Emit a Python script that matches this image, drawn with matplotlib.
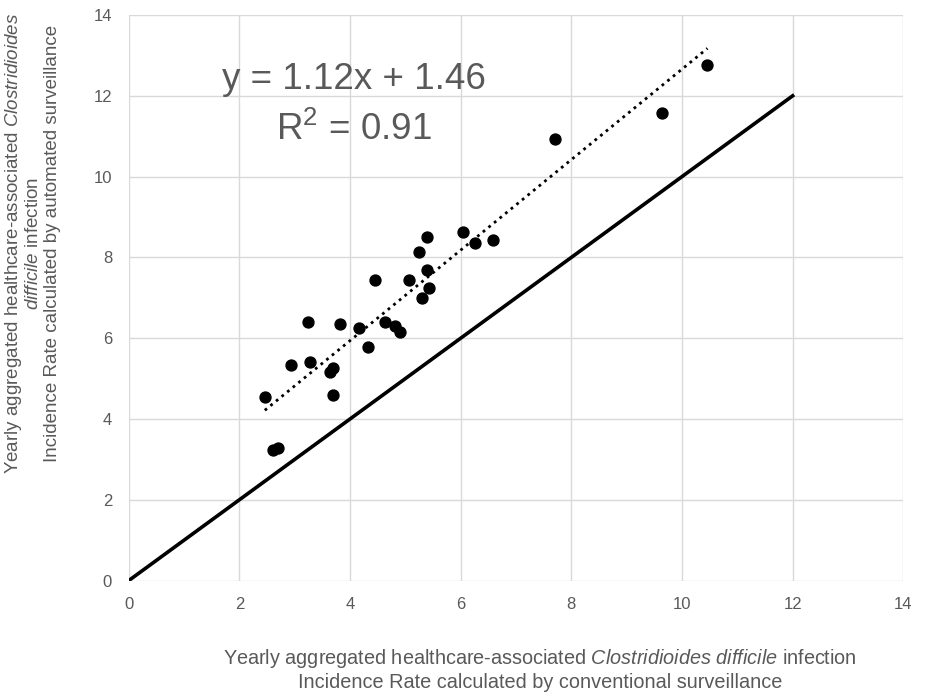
import numpy as np
import matplotlib
matplotlib.use("Agg")
import matplotlib.pyplot as plt

# Yearly aggregated HA-CDI incidence rates (conventional vs automated surveillance)
conventional = [2.46, 2.61, 2.69, 2.93, 3.24, 3.27, 3.64, 3.70, 3.69, 3.82,
                4.17, 4.33, 4.46, 4.64, 4.81, 4.90, 5.06, 5.25, 5.30, 5.40,
                5.43, 5.40, 6.04, 6.25, 6.58, 7.70, 9.63, 10.46]
automated = [4.54, 3.23, 3.29, 5.34, 6.40, 5.42, 5.16, 5.25, 4.59, 6.35,
             6.25, 5.77, 7.44, 6.41, 6.31, 6.15, 7.43, 8.13, 7.00, 7.69,
             7.24, 8.50, 8.62, 8.36, 8.42, 10.93, 11.58, 12.77]

# trendline reported on the chart
slope, intercept, r2 = 1.12, 1.46, 0.91
identity_range = [0, 12]

plt.rcParams['font.family'] = ["Liberation Sans", "DejaVu Sans"]
plt.rcParams['mathtext.fontset'] = 'custom'
plt.rcParams['mathtext.rm'] = 'Liberation Sans'
plt.rcParams['mathtext.it'] = 'Liberation Sans:italic'

grey = '#595959'

fig = plt.figure(figsize=(9.28, 6.92), dpi=100)
ax = fig.add_axes([0.1387, 0.161, 0.8347, 0.8173])

# line of identity
ax.plot(identity_range, identity_range, color='black', linewidth=2.6, zorder=3)

# linear trendline across the data range
xs = np.array([min(conventional), max(conventional)])
ax.plot(xs, slope * xs + intercept, color='black', linestyle=(0, (1, 1.6)),
        linewidth=2.0, zorder=3)

ax.scatter(conventional, automated, s=62, color='black', zorder=4)

ax.set_xlim(0, 14)
ax.set_ylim(0, 14)
ax.set_xticks(range(0, 15, 2))
ax.set_yticks(range(0, 15, 2))
ax.grid(True, color='#D9D9D9', linewidth=1.0)
ax.set_axisbelow(True)
for s in ax.spines.values():
    s.set_visible(False)
ax.tick_params(length=0, labelsize=12, labelcolor=grey, pad=12)

ax.text(4.07, 12.4, f"y = {slope}x + {intercept}", fontsize=26.5, color=grey,
        ha='center', va='center')
ax.text(4.07, 11.15, f"R$^{{2}}$ = {r2}", fontsize=26.5, color=grey,
        ha='center', va='center')

fig.text(540 / 928, 1 - 670 / 692,
         "Yearly aggregated healthcare-associated $\\mathit{Clostridioides\\ difficile}$ infection\n"
         "Incidence Rate calculated by conventional surveillance",
         ha='center', va='center', fontsize=14.3, color=grey, linespacing=1.2)

fig.text(32 / 928, 1 - 243 / 692,
         "Yearly aggregated healthcare-associated $\\mathit{Clostridioides}$\n"
         "$\\mathit{difficile}$ infection\n"
         "Incidence Rate calculated by automated surveillance",
         ha='center', va='center', rotation=90, fontsize=13.5, color=grey,
         linespacing=1.15)

fig.savefig("out.png", dpi=100)
